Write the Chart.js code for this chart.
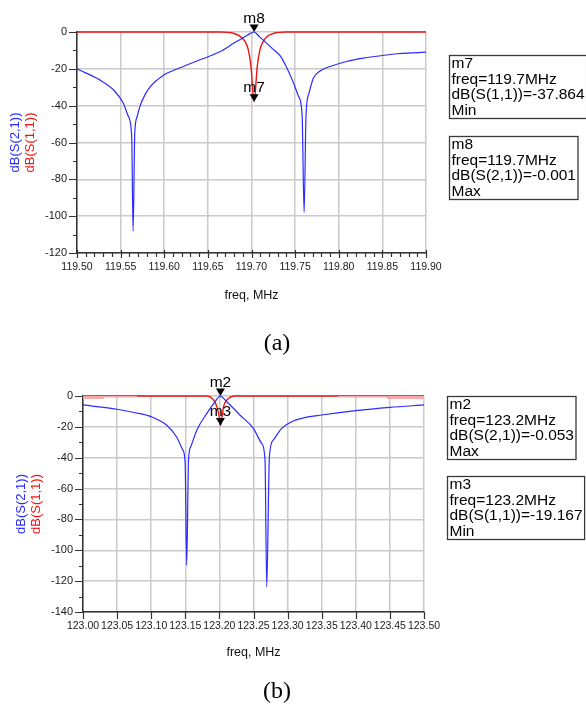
<!DOCTYPE html>
<html lang="en">
<head>
<meta charset="UTF-8">
<title>Filter response (a) and (b)</title>
<script src="https://cdn.jsdelivr.net/npm/chart.js"></script>
<style>
    body {
        margin: 0;
        background: #fff;
        font-family: Arial, "Liberation Sans", sans-serif;
    }
    .panel {
        position: absolute;
        left: 0;
        width: 586px;
    }
    #panelA { top: 0; height: 360px; }
    #panelB { top: 360px; height: 346px; }
</style>
</head>
<body>
<div class="panel" id="panelA"><canvas id="chartA" width="586" height="360"></canvas></div>
<div class="panel" id="panelB"><canvas id="chartB" width="586" height="346"></canvas></div>

<script>
// ---- (a) 119.5 - 119.9 MHz ----
const freqS21A = [119.500, 119.510, 119.526, 119.542, 119.553, 119.559, 119.5627, 119.5643, 119.5662, 119.5689,
    119.572, 119.578, 119.584, 119.592, 119.600, 119.611, 119.622, 119.636, 119.651, 119.666,
    119.680, 119.688, 119.695, 119.703, 119.709, 119.716, 119.724, 119.733, 119.740, 119.748,
    119.754, 119.758, 119.7603, 119.7625, 119.766, 119.771, 119.779, 119.790, 119.809, 119.828,
    119.848, 119.867, 119.885, 119.900];
const dbS21A = [-20.0, -22.2, -26.0, -31.5, -38.6, -46.0, -56.8, -108.2, -55.0, -46.0,
    -40.5, -34.0, -29.6, -26.0, -23.2, -20.8, -18.7, -16.0, -13.3, -10.2,
    -6.0, -3.8, -1.8, -0.001, -2.5, -5.5, -9.0, -13.0, -19.0, -27.5,
    -35.0, -45.0, -98.0, -45.0, -33.0, -25.0, -21.0, -18.7, -16.0, -14.2,
    -12.9, -11.8, -11.3, -10.9];
const freqS11A = [119.500, 119.664, 119.680, 119.687, 119.693, 119.6963, 119.6994, 119.703, 119.7066, 119.7097, 119.713, 119.718, 119.725, 119.740, 119.900];
const dbS11A = [0, 0, -0.8, -2.4, -5.5, -9.6, -18.7, -37.864, -18.7, -9.6, -5.5, -2.4, -0.8, 0, 0];
const xLabelsA = ['119.50', '119.55', '119.60', '119.65', '119.70', '119.75', '119.80', '119.85', '119.90'];
const yLabelsA = ['0', '-20', '-40', '-60', '-80', '-100', '-120'];
const markerNamesA = ['m8', 'm7'];
const markerFreqA = [119.703, 119.703];
const markerDbA = [-0.001, -37.864];
const readoutA = [
    ['m7', 'freq=119.7MHz', 'dB(S(1,1))=-37.864', 'Min'],
    ['m8', 'freq=119.7MHz', 'dB(S(2,1))=-0.001', 'Max']
];

// ---- (b) 123.0 - 123.5 MHz ----
const freqS21B = [123.000, 123.050, 123.075, 123.100, 123.1225, 123.137, 123.1464, 123.1498, 123.152, 123.1547,
    123.158, 123.167, 123.1816, 123.1937, 123.201, 123.2108, 123.230, 123.2498, 123.262, 123.2669,
    123.2694, 123.2733, 123.2791, 123.2914, 123.3084, 123.325, 123.350, 123.400, 123.450, 123.500];
const dbS21B = [-5.8, -8.6, -10.7, -13.4, -18.8, -26.4, -35.0, -43.7, -109.7, -41.5,
    -32.9, -22.0, -11.3, -3.7, -0.053, -3.7, -12.3, -21.0, -30.7, -41.5,
    -123.7, -39.4, -28.5, -21.0, -16.2, -14.0, -12.3, -9.5, -7.4, -5.8];
const freqS11B = [123.000, 123.1816, 123.1914, 123.1963, 123.2002, 123.2015, 123.2035, 123.2061, 123.211, 123.2232, 123.500];
const dbS11B = [0, 0, -2.6, -6.9, -14.5, -19.167, -14.5, -6.9, -2.6, 0, 0];
// faint S11 ripple near 0 dB at both band edges
const rippleFreqLoB = [123.000, 123.030, 123.031, 123.079];
const rippleDbLoB = [-2.0, -2.0, -0.9, -0.9];
const rippleFreqHiB = [123.374, 123.445, 123.446, 123.500];
const rippleDbHiB = [-0.9, -0.9, -2.0, -2.0];
const xLabelsB = ['123.00', '123.05', '123.10', '123.15', '123.20', '123.25', '123.30', '123.35', '123.40', '123.45', '123.50'];
const yLabelsB = ['0', '-20', '-40', '-60', '-80', '-100', '-120', '-140'];
const markerNamesB = ['m2', 'm3'];
const markerFreqB = [123.2015, 123.2015];
const markerDbB = [-0.053, -19.167];
const readoutB = [
    ['m2', 'freq=123.2MHz', 'dB(S(2,1))=-0.053', 'Max'],
    ['m3', 'freq=123.2MHz', 'dB(S(1,1))=-19.167', 'Min']
];

const BLUE = '#2b2bff';
const RED = '#ee1515';
const GRID = '#cacaca';
const AXIS = '#333';

function pts(xs, ys) {
    return xs.map((x, i) => ({ x: x, y: ys[i] }));
}

// major ticks from the label list, minor ones spread evenly between them
function buildTicks(labels, minorPerMajor) {
    const vals = labels.map(Number);
    const out = [];
    vals.forEach((v, i) => {
        out.push({ value: v, isMajor: true, text: labels[i] });
        if (i < vals.length - 1) {
            for (let k = 1; k <= minorPerMajor; k++) {
                out.push({ value: v + (vals[i + 1] - v) * k / (minorPerMajor + 1), isMajor: false, text: '' });
            }
        }
    });
    return out.sort((a, b) => a.value - b.value);
}

const overlay = {
    id: 'overlay',
    afterDraw(chart) {
        const c = chart.options.plugins.overlay;
        const ctx = chart.ctx;
        const area = chart.chartArea;
        const xs = chart.scales.x, ys = chart.scales.y;
        ctx.save();

        // tick marks
        ctx.strokeStyle = AXIS;
        ctx.lineWidth = 1.2;
        ctx.beginPath();
        xs.ticks.forEach(t => {
            const px = Math.round(xs.getPixelForValue(t.value)) + 0.5;
            if (t.isMajor) {
                ctx.moveTo(px, area.bottom - c.xMajorUp);
                ctx.lineTo(px, area.bottom + c.xMajorDown);
            } else {
                ctx.moveTo(px, area.bottom);
                ctx.lineTo(px, area.bottom + 4);
            }
        });
        ys.ticks.forEach(t => {
            const py = Math.round(ys.getPixelForValue(t.value)) + 0.5;
            ctx.moveTo(area.left - (t.isMajor ? 8 : 4), py);
            ctx.lineTo(area.left, py);
        });
        ctx.stroke();

        // markers: tip on the data point, name above
        ctx.fillStyle = '#000';
        ctx.font = '15.5px Arial';
        ctx.textAlign = 'center';
        ctx.textBaseline = 'alphabetic';
        c.markers.names.forEach((name, i) => {
            const px = xs.getPixelForValue(c.markers.freq[i]);
            const py = ys.getPixelForValue(c.markers.db[i]);
            ctx.beginPath();
            ctx.moveTo(px, py);
            ctx.lineTo(px - 4.5, py - 7.5);
            ctx.lineTo(px + 4.5, py - 7.5);
            ctx.closePath();
            ctx.fill();
            ctx.fillText(name, px, py - 9.5);
        });

        // readout boxes
        ctx.textAlign = 'left';
        ctx.textBaseline = 'middle';
        c.boxes.forEach((b, i) => {
            const lines = c.readouts[i];
            const w = Math.max(...lines.map(l => ctx.measureText(l).width)) + 4;
            ctx.strokeStyle = '#3a3a3a';
            ctx.lineWidth = 1.3;
            ctx.strokeRect(b.x + 0.5, b.y + 0.5, w, 63);
            ctx.fillStyle = '#000';
            lines.forEach((l, k) => ctx.fillText(l, b.x + 2.5, b.y + 9 + k * 15.5));
        });

        // two-colour y title
        const midY = (area.top + area.bottom) / 2;
        ctx.font = '13px Arial';
        ctx.textAlign = 'center';
        [['dB(S(2,1))', BLUE, area.left - 62], ['dB(S(1,1))', RED, area.left - 47]].forEach(([txt, col, x]) => {
            ctx.save();
            ctx.translate(x, midY);
            ctx.rotate(-Math.PI / 2);
            ctx.fillStyle = col;
            ctx.fillText(txt, 0, 0);
            ctx.restore();
        });

        // x title and caption
        ctx.fillStyle = '#111';
        ctx.font = '12.5px Arial';
        ctx.fillText('freq, MHz', (area.left + area.right) / 2, area.bottom + c.titleGap);
        ctx.fillStyle = '#000';
        ctx.font = '24px "Liberation Serif", "Times New Roman", serif';
        ctx.fillText(c.caption, 277, c.captionY);
        ctx.restore();
    }
};

function makeChart(id, cfg) {
    const datasets = (cfg.extra || []).concat([
        {
            label: 'dB(S(2,1))',
            data: pts(cfg.s21x, cfg.s21y),
            borderColor: BLUE,
            borderWidth: 1.2,
            pointRadius: 0,
            cubicInterpolationMode: 'monotone',
            clip: 6
        },
        {
            label: 'dB(S(1,1))',
            data: pts(cfg.s11x, cfg.s11y),
            borderColor: RED,
            borderWidth: 1.4,
            pointRadius: 0,
            cubicInterpolationMode: 'monotone',
            clip: 6
        }
    ]);
    const xt = buildTicks(cfg.xLabels, cfg.xMinor);
    const yt = buildTicks(cfg.yLabels, 1);
    return new Chart(document.getElementById(id), {
        type: 'line',
        data: { datasets: datasets },
        plugins: [overlay],
        options: {
            responsive: false,
            animation: false,
            events: [],
            layout: { padding: { top: cfg.top, right: cfg.right, left: 0, bottom: 0 } },
            plugins: {
                legend: { display: false },
                tooltip: { enabled: false },
                overlay: cfg.overlay
            },
            scales: {
                x: {
                    type: 'linear',
                    min: Number(cfg.xLabels[0]),
                    max: Number(cfg.xLabels[cfg.xLabels.length - 1]),
                    afterBuildTicks: s => { s.ticks = xt; },
                    afterFit: s => { s.height = cfg.xHeight; },
                    ticks: {
                        autoSkip: false,
                        maxRotation: 0,
                        padding: 8,
                        color: '#1a1a1a',
                        font: { family: 'Arial', size: 10.5 },
                        callback: (v, i, ticks) => ticks[i].text
                    },
                    grid: {
                        drawTicks: false,
                        color: c => (c.tick && c.tick.isMajor ? GRID : 'rgba(0,0,0,0)'),
                        lineWidth: 1.5
                    },
                    border: { color: AXIS, width: 1.5 }
                },
                y: {
                    type: 'linear',
                    min: Number(cfg.yLabels[cfg.yLabels.length - 1]),
                    max: Number(cfg.yLabels[0]),
                    afterBuildTicks: s => { s.ticks = yt; },
                    afterFit: s => { s.width = cfg.yWidth; },
                    ticks: {
                        autoSkip: false,
                        padding: 10,
                        color: '#1a1a1a',
                        font: { family: 'Arial', size: 11 },
                        callback: (v, i, ticks) => ticks[i].text
                    },
                    grid: {
                        drawTicks: false,
                        color: c => (c.tick && c.tick.isMajor ? GRID : 'rgba(0,0,0,0)'),
                        lineWidth: 1.5
                    },
                    border: { color: AXIS, width: 1.5 }
                }
            }
        }
    });
}

makeChart('chartA', {
    s21x: freqS21A, s21y: dbS21A, s11x: freqS11A, s11y: dbS11A,
    xLabels: xLabelsA, yLabels: yLabelsA, xMinor: 4,
    top: 32, right: 160, yWidth: 77, xHeight: 107,
    overlay: {
        xMajorUp: 3, xMajorDown: 5, titleGap: 43,
        caption: '(a)', captionY: 344,
        markers: { names: markerNamesA, freq: markerFreqA, db: markerDbA },
        readouts: readoutA,
        boxes: [{ x: 449, y: 55 }, { x: 449, y: 136 }]
    }
});

makeChart('chartB', {
    s21x: freqS21B, s21y: dbS21B, s11x: freqS11B, s11y: dbS11B,
    xLabels: xLabelsB, yLabels: yLabelsB, xMinor: 0,
    top: 36, right: 162, yWidth: 83, xHeight: 94,
    extra: [
        { data: pts(rippleFreqLoB, rippleDbLoB), borderWidth: 0, pointRadius: 0, backgroundColor: '#f7a9a9', fill: 'origin' },
        { data: pts(rippleFreqHiB, rippleDbHiB), borderWidth: 0, pointRadius: 0, backgroundColor: '#f7a9a9', fill: 'origin' }
    ],
    overlay: {
        xMajorUp: 0, xMajorDown: 7, titleGap: 41,
        caption: '(b)', captionY: 332,
        markers: { names: markerNamesB, freq: markerFreqB, db: markerDbB },
        readouts: readoutB,
        boxes: [{ x: 447, y: 36 }, { x: 447, y: 116 }]
    }
});
</script>
</body>
</html>
